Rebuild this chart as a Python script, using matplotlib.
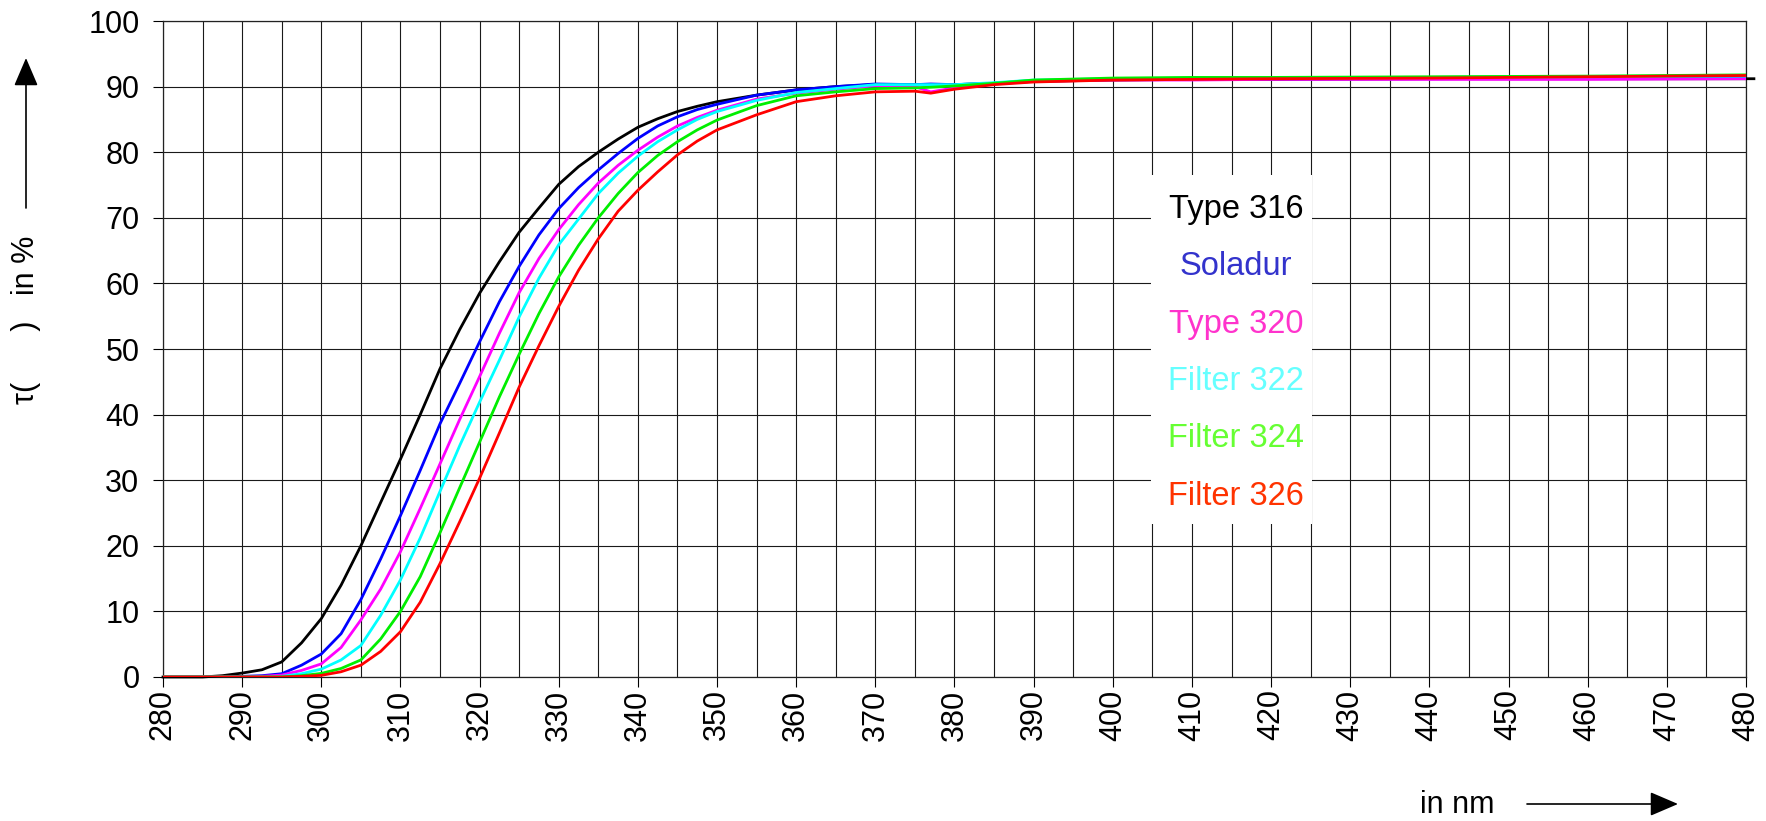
import matplotlib
matplotlib.use('Agg')
import matplotlib.pyplot as plt
from matplotlib.patches import Rectangle
from matplotlib.ticker import MultipleLocator

plt.rcParams['font.family'] = ['Liberation Sans', 'DejaVu Sans']

# wavelength in nm
WAVELENGTHS = [280, 285, 287.5, 290, 292.5, 295, 297.5, 300, 302.5, 305, 307.5,
               310, 312.5, 315, 317.5, 320, 322.5, 325, 327.5, 330, 332.5, 335,
               337.5, 340, 342.5, 345, 347.5, 350, 355, 360, 365, 370, 375, 377,
               380, 385, 390, 400, 410, 420, 440, 460, 481]

# transmission in %
TYPE_316 = [0, 0, 0.2, 0.6, 1.1, 2.3, 5.2, 8.9, 14.0, 20.0, 26.6,
            33.2, 40.0, 47.0, 53.0, 58.5, 63.3, 67.8, 71.5, 75.1, 77.8, 80.0,
            82.0, 83.8, 85.1, 86.2, 87.0, 87.7, 88.7, 89.5, 90.0, 90.3, 90.3, 90.2,
            90.3, 90.5, 90.8, 91.0, 91.1, 91.1, 91.2, 91.2, 91.2]
SOLADUR = [0, 0, 0, 0.1, 0.2, 0.5, 1.8, 3.5, 6.6, 11.8, 18.0,
           24.6, 31.5, 38.6, 44.8, 51.1, 57.2, 62.6, 67.4, 71.4, 74.6, 77.3,
           79.8, 82.1, 84.0, 85.4, 86.5, 87.3, 88.7, 89.5, 90.0, 90.4, 90.3, 90.4,
           90.3, 90.5, 90.9, 91.1, 91.2, 91.2, 91.2, 91.3, 91.3]
TYPE_320 = [0, 0, 0, 0, 0.1, 0.3, 1.0, 2.0, 4.5, 8.7, 13.4,
            19.1, 25.7, 32.5, 39.3, 45.8, 52.4, 58.6, 63.8, 68.2, 72.0, 75.3,
            78.0, 80.3, 82.3, 84.0, 85.3, 86.4, 88.1, 89.0, 89.6, 90.1, 90.0, 89.2,
            89.8, 90.4, 90.8, 91.0, 91.0, 91.1, 91.1, 91.1, 91.2]
FILTER_322 = [0, 0, 0, 0, 0, 0.1, 0.5, 1.2, 2.6, 4.8, 9.4,
              14.8, 21.2, 28.3, 35.3, 41.9, 48.3, 54.9, 60.8, 65.9, 69.8, 73.7,
              76.8, 79.4, 81.6, 83.4, 85.0, 86.2, 87.9, 89.1, 89.7, 90.3, 90.3, 90.3,
              90.3, 90.6, 91.0, 91.2, 91.3, 91.3, 91.4, 91.5, 91.6]
FILTER_324 = [0, 0, 0, 0, 0, 0, 0.2, 0.55, 1.3, 2.6, 5.8,
              10.0, 15.3, 22.0, 28.9, 35.8, 42.7, 49.2, 55.4, 61.0, 65.8, 70.0,
              73.7, 76.9, 79.5, 81.6, 83.4, 84.9, 87.1, 88.6, 89.2, 89.7, 89.8, 89.9,
              90.1, 90.5, 91.0, 91.3, 91.4, 91.4, 91.5, 91.6, 91.8]
FILTER_326 = [0, 0, 0, 0, 0, 0, 0.1, 0.25, 0.8, 1.8, 3.9,
              6.9, 11.4, 17.3, 23.7, 30.3, 37.2, 44.2, 50.5, 56.5, 62.0, 66.8,
              71.0, 74.2, 77.0, 79.6, 81.7, 83.4, 85.7, 87.7, 88.6, 89.2, 89.3, 89.0,
              89.6, 90.3, 90.7, 91.0, 91.1, 91.2, 91.3, 91.5, 91.7]

NAMES = ['Type 316', 'Soladur', 'Type 320', 'Filter 322', 'Filter 324', 'Filter 326']
SERIES = [TYPE_316, SOLADUR, TYPE_320, FILTER_322, FILTER_324, FILTER_326]
LINE_COLORS = ['#000000', '#0000ff', '#ff00ff', '#00ffff', '#00ee00', '#ff0000']
TEXT_COLORS = ['#000000', '#3333cc', '#ff33cc', '#66ffff', '#66ff33', '#ff3300']

fig = plt.figure(figsize=(17.66, 8.21), dpi=100)
ax = fig.add_axes([163 / 1766, 1 - 677 / 821, 1583 / 1766, 656 / 821])

for i, (name, vals) in enumerate(zip(NAMES, SERIES)):
    # only the black one runs a bit past the right edge in the original
    ax.plot(WAVELENGTHS, vals, color=LINE_COLORS[i], lw=2.0, zorder=3,
            clip_on=(i != 0))

ax.set_xlim(280, 480)
ax.set_ylim(0, 100)
ax.xaxis.set_major_locator(MultipleLocator(10))
ax.xaxis.set_minor_locator(MultipleLocator(5))
ax.yaxis.set_major_locator(MultipleLocator(10))
ax.set_axisbelow(True)
ax.grid(True, which='both', axis='x', color='#1a1a1a', lw=0.8)
ax.grid(True, which='major', axis='y', color='#1a1a1a', lw=0.8)
ax.tick_params(axis='y', which='major', length=7, width=0.8, pad=10, labelsize=22)
ax.tick_params(axis='x', which='major', length=7, width=0.8, pad=2, labelsize=22,
               labelrotation=90)
ax.tick_params(axis='x', which='minor', length=0)
for s in ax.spines.values():
    s.set_color('#222222')
    s.set_linewidth(0.9)

# legend: coloured names on a white box, no line samples
ax.add_patch(Rectangle((0.624, 0.233), 0.102, 0.533, transform=ax.transAxes,
                       facecolor='white', edgecolor='none', zorder=1))
for i, name in enumerate(NAMES):
    ax.text(0.678, 0.713 - i * 0.0875, name, transform=ax.transAxes,
            ha='center', va='center', fontsize=23.5, color=TEXT_COLORS[i], zorder=4)

# axis titles with arrows
fig.text(26 / 1766, 1 - 320 / 821, '\u03c4(      )   in %', rotation=90,
         ha='center', va='center', fontsize=22)
fig.text(1457 / 1766, 1 - 805 / 821, 'in nm', ha='center', va='center', fontsize=22)
arrow = dict(arrowstyle='-|>,head_length=0.7,head_width=0.3', color='black',
             lw=1.2, mutation_scale=25, shrinkA=0, shrinkB=0)
ax.annotate('', xy=(26 / 1766, 1 - 58 / 821), xytext=(26 / 1766, 1 - 208 / 821),
            xycoords='figure fraction', textcoords='figure fraction',
            arrowprops=arrow, annotation_clip=False)
ax.annotate('', xy=(1678 / 1766, 1 - 804 / 821), xytext=(1527 / 1766, 1 - 804 / 821),
            xycoords='figure fraction', textcoords='figure fraction',
            arrowprops=arrow, annotation_clip=False)

fig.savefig('out.png', dpi=100)
